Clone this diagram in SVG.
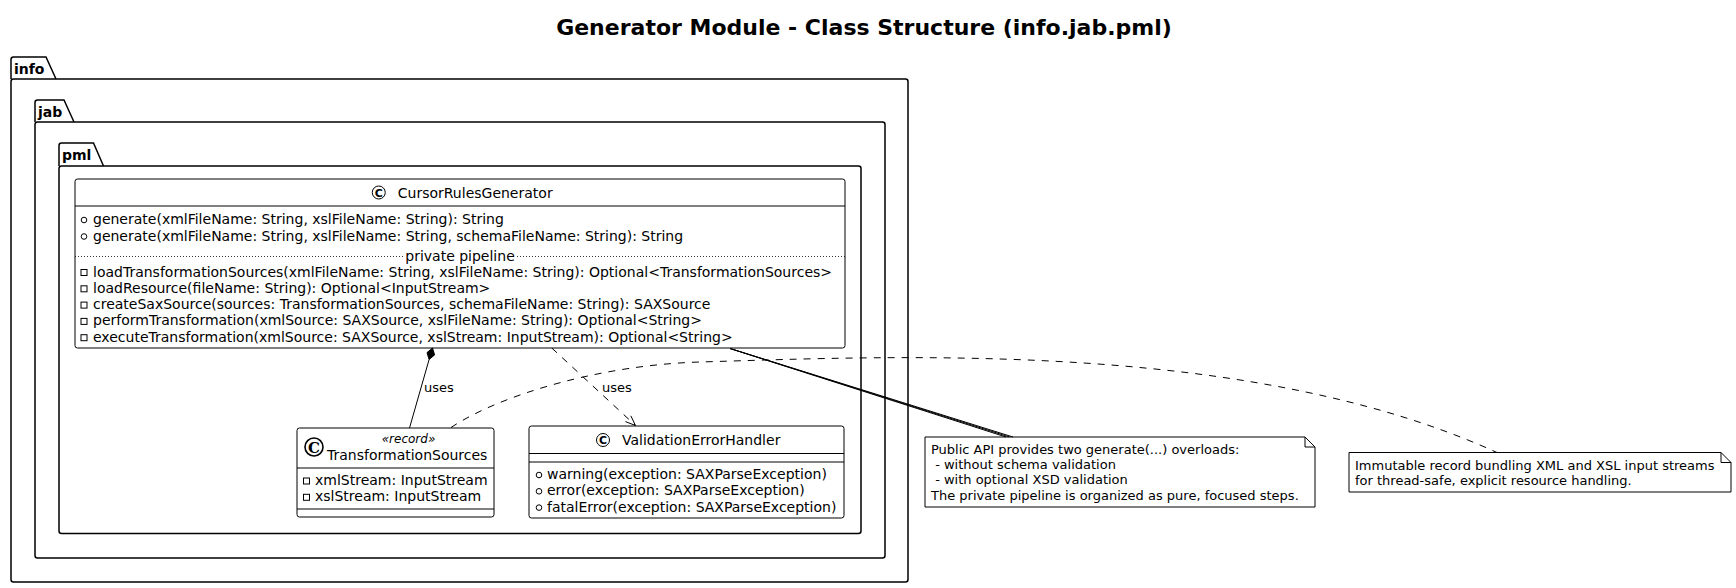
<svg xmlns="http://www.w3.org/2000/svg" width="1736" height="588" viewBox="0 0 1736 588">
<style>
.bg{fill:#fff}
.pkg{fill:none;stroke:#000;stroke-width:1.5}
.cls{fill:#fff;stroke:#000;stroke-width:1}
.ln{fill:none;stroke:#000;stroke-width:1}
.dash{stroke-dasharray:7,7}
.dot{fill:none;stroke:#000;stroke-width:0.8;stroke-dasharray:1,2}
.t{font-family:"DejaVu Sans","Liberation Sans",sans-serif;font-size:14px;fill:#000}
.b{font-weight:bold}
.s13{font-size:13px}
.pre{white-space:pre}
.vis{fill:none;stroke:#000;stroke-width:1}
.note{fill:#fff;stroke:#000;stroke-width:1}
</style>
<rect class="bg" x="0" y="0" width="1736" height="588"/>
<text class="t b" x="864" y="35" text-anchor="middle" style="font-size:22px">Generator Module - Class Structure (info.jab.pml)</text>

<g id="pkg-info">
  <path class="pkg" d="M11,79 L11,59.5 Q11,57 13.5,57 L46,57 L56,79"/>
  <rect class="pkg" x="11" y="79" width="897" height="503" rx="2.5"/>
  <text class="t b" x="14" y="74">info</text>
</g>
<g id="pkg-jab">
  <path class="pkg" d="M35,122 L35,102.5 Q35,100 37.5,100 L64,100 L74,122"/>
  <rect class="pkg" x="35" y="122" width="850" height="436" rx="2.5"/>
  <text class="t b" x="38" y="117">jab</text>
</g>
<g id="pkg-pml">
  <path class="pkg" d="M59,166 L59,145.5 Q59,143 61.5,143 L93.5,143 L103.5,166"/>
  <rect class="pkg" x="59" y="166" width="802" height="367.5" rx="2.5"/>
  <text class="t b" x="62" y="160">pml</text>
</g>

<g id="CursorRulesGenerator">
  <rect class="cls" x="75" y="179" width="770" height="169" rx="2.5"/>
  <circle cx="378.75" cy="192.5" r="6.5" fill="#fff" stroke="#000" stroke-width="1"/>
  <text class="t b" x="378.75" y="196.5" text-anchor="middle" style="font-size:11px">C</text>
  <text class="t" x="397.75" y="197.5">CursorRulesGenerator</text>
  <line class="ln" x1="75" y1="206" x2="845" y2="206"/>
  <circle class="vis" cx="84" cy="220" r="2.8"/>
  <text class="t" x="93" y="224">generate(xmlFileName: String, xslFileName: String): String</text>
  <circle class="vis" cx="84" cy="236.5" r="2.8"/>
  <text class="t" x="93" y="240.5">generate(xmlFileName: String, xslFileName: String, schemaFileName: String): String</text>
  <line class="dot" x1="75" y1="256.5" x2="403" y2="256.5"/>
  <line class="dot" x1="517" y1="256.5" x2="845" y2="256.5"/>
  <text class="t" x="460" y="261" text-anchor="middle">private pipeline</text>
  <rect class="vis" x="81" y="269.5" width="6" height="6"/>
  <text class="t" x="93" y="276.5">loadTransformationSources(xmlFileName: String, xslFileName: String): Optional&lt;TransformationSources&gt;</text>
  <rect class="vis" x="81" y="285.8" width="6" height="6"/>
  <text class="t" x="93" y="292.8">loadResource(fileName: String): Optional&lt;InputStream&gt;</text>
  <rect class="vis" x="81" y="302.1" width="6" height="6"/>
  <text class="t" x="93" y="309.1">createSaxSource(sources: TransformationSources, schemaFileName: String): SAXSource</text>
  <rect class="vis" x="81" y="318.4" width="6" height="6"/>
  <text class="t" x="93" y="325.4">performTransformation(xmlSource: SAXSource, xslFileName: String): Optional&lt;String&gt;</text>
  <rect class="vis" x="81" y="334.7" width="6" height="6"/>
  <text class="t" x="93" y="341.7">executeTransformation(xmlSource: SAXSource, xslStream: InputStream): Optional&lt;String&gt;</text>
</g>

<g id="TransformationSources">
  <rect class="cls" x="297" y="428" width="197" height="89" rx="2.5"/>
  <circle cx="314" cy="447" r="9" fill="#fff" stroke="#000" stroke-width="1.6"/>
  <text x="314" y="452.5" text-anchor="middle" style="font-family:'DejaVu Serif',serif;font-weight:bold;font-size:15px">C</text>
  <text class="t" x="408.5" y="443" text-anchor="middle" style="font-size:12px;font-style:italic">«record»</text>
  <text class="t" x="327" y="460">TransformationSources</text>
  <line class="ln" x1="297" y1="468" x2="494" y2="468"/>
  <rect class="vis" x="303.5" y="478" width="6" height="6"/>
  <text class="t" x="315" y="485">xmlStream: InputStream</text>
  <rect class="vis" x="303.5" y="494.3" width="6" height="6"/>
  <text class="t" x="315" y="501.3">xslStream: InputStream</text>
  <line class="ln" x1="297" y1="509" x2="494" y2="509"/>
</g>

<g id="ValidationErrorHandler">
  <rect class="cls" x="529" y="426" width="315" height="92" rx="2.5"/>
  <circle cx="603" cy="440" r="6.5" fill="#fff" stroke="#000" stroke-width="1"/>
  <text class="t b" x="603" y="444" text-anchor="middle" style="font-size:11px">C</text>
  <text class="t" x="622" y="445">ValidationErrorHandler</text>
  <line class="ln" x1="529" y1="453.5" x2="844" y2="453.5"/>
  <line class="ln" x1="529" y1="462" x2="844" y2="462"/>
  <circle class="vis" cx="539" cy="475" r="2.8"/>
  <text class="t" x="547" y="479">warning(exception: SAXParseException)</text>
  <circle class="vis" cx="539" cy="491.3" r="2.8"/>
  <text class="t" x="547" y="495.3">error(exception: SAXParseException)</text>
  <circle class="vis" cx="539" cy="507.6" r="2.8"/>
  <text class="t" x="547" y="511.6">fatalError(exception: SAXParseException)</text>
</g>

<g id="note-public-api">
  <path class="note" d="M925,437 L925,507 L1315,507 L1315,447 L1305,437 Z"/>
  <path class="ln" d="M1305,437 L1305,447 L1315,447"/>
  <text class="t s13 pre" x="931" y="454">Public API provides two generate(...) overloads:</text>
  <text class="t s13 pre" x="931" y="469.2"> - without schema validation</text>
  <text class="t s13 pre" x="931" y="484.4"> - with optional XSD validation</text>
  <text class="t s13 pre" x="931" y="499.6">The private pipeline is organized as pure, focused steps.</text>
</g>

<g id="note-record">
  <path class="note" d="M1349,452.5 L1349,492 L1731,492 L1731,462.5 L1721,452.5 Z"/>
  <path class="ln" d="M1721,452.5 L1721,462.5 L1731,462.5"/>
  <text class="t s13" x="1355" y="469.5">Immutable record bundling XML and XSL input streams</text>
  <text class="t s13" x="1355" y="484.7">for thread-safe, explicit resource handling.</text>
</g>

<g id="connectors">
  <path d="M432.5,348 L434.6,354.9 L429.1,359.5 L427,352.6 Z" fill="#000" stroke="#000" stroke-width="1"/>
  <line class="ln" x1="429.1" y1="359.5" x2="409.5" y2="428"/>
  <text class="t s13" x="424" y="392">uses</text>
  <line class="ln dash" x1="551.8" y1="348" x2="635.5" y2="425.5"/>
  <path class="ln" d="M625.4,421.6 L635.5,425.5 L630.8,415.8"/>
  <text class="t s13" x="602" y="392">uses</text>
  <line class="ln" x1="730" y1="348.5" x2="1006" y2="437"/>
  <line class="ln" x1="730" y1="348.5" x2="1009.5" y2="437"/>
  <line class="ln" x1="730" y1="348.5" x2="1013" y2="437"/>
  <path class="ln dash" d="M451,427.5 C500,395 600,365 700,362 C900,356 1250,340 1497,452.5"/>
</g>
</svg>
